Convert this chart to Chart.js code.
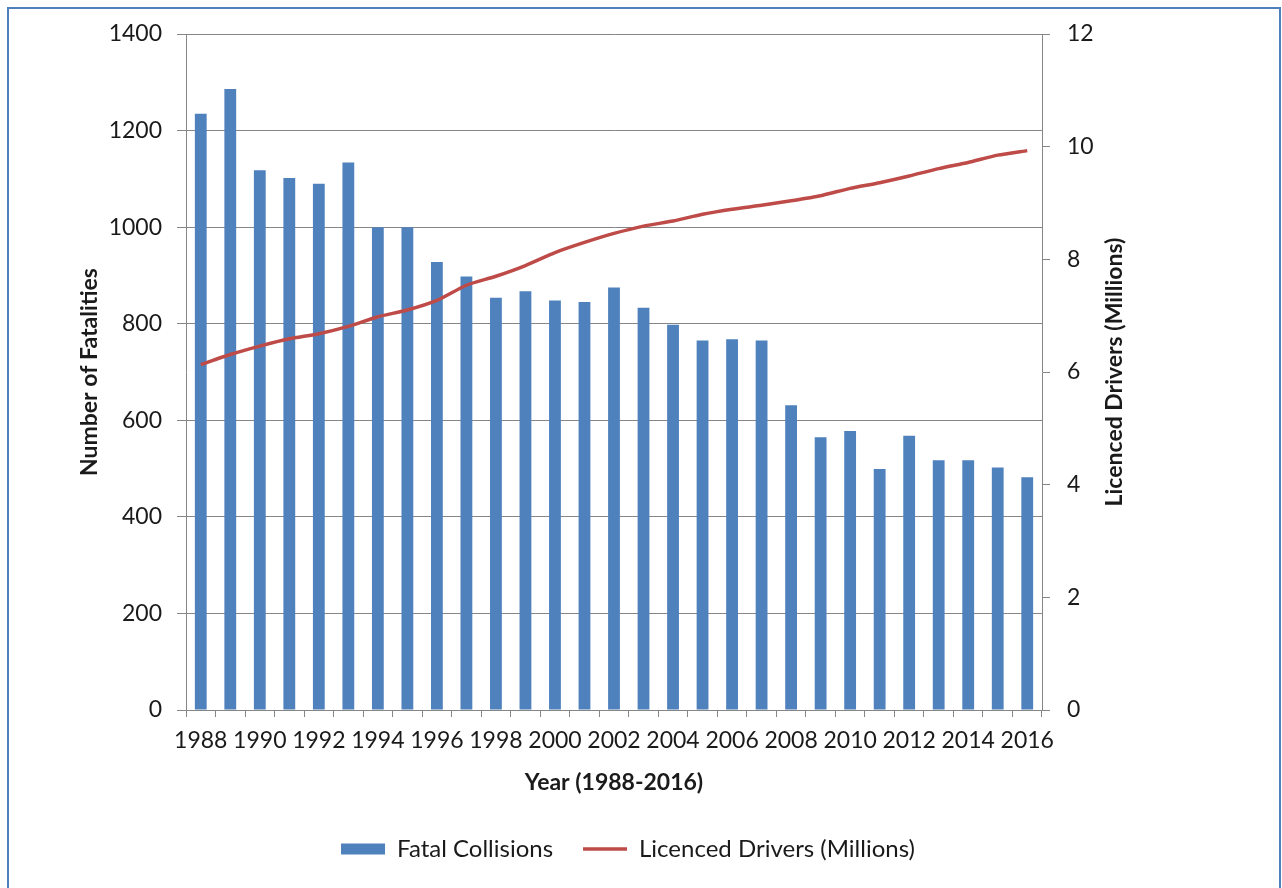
<!DOCTYPE html>
<html>
<head>
<meta charset="utf-8">
<script src="https://cdn.jsdelivr.net/npm/chart.js@4.4.0/dist/chart.umd.min.js"></script>
<style>
    html, body { margin: 0; padding: 0; background: #fff; overflow: hidden; }
    #wrap { position: relative; width: 1282px; height: 888px; }
    #frame {
        position: absolute; left: 7px; top: 7px; width: 1270px; height: 900px;
        border: 2px solid #4F81BD;
    }
    #chart { position: absolute; left: 0; top: 0; }
</style>
</head>
<body>
<div id="wrap">
    <div id="frame"></div>
    <canvas id="chart" width="1282" height="888"></canvas>
</div>
<script>
// values
const years = ['1988', '1989', '1990', '1991', '1992', '1993', '1994', '1995', '1996', '1997',
    '1998', '1999', '2000', '2001', '2002', '2003', '2004', '2005', '2006', '2007',
    '2008', '2009', '2010', '2011', '2012', '2013', '2014', '2015', '2016'];

const fatalCollisions = [1235, 1286, 1118, 1102, 1090, 1134, 1000, 1000, 928, 898,
    854, 867, 848, 845, 875, 833, 798, 765, 768, 765,
    631, 565, 578, 499, 568, 517, 517, 502, 482];

const licencedDrivers = [6.13, 6.31, 6.46, 6.59, 6.68, 6.81, 6.98, 7.10, 7.27, 7.54,
    7.70, 7.89, 8.12, 8.30, 8.46, 8.59, 8.68, 8.80, 8.89, 8.96,
    9.04, 9.13, 9.26, 9.36, 9.48, 9.61, 9.72, 9.85, 9.93];

const leftTicks = [0, 200, 400, 600, 800, 1000, 1200, 1400];
const rightTicks = [0, 2, 4, 6, 8, 10, 12];

const FONT = 'Lato, "Open Sans", sans-serif';
const GRID = '#868686';
const TEXT = '#1a1a1a';

const PAD = { top: 34, right: 26, bottom: 17, left: 0 };
const PLOT_LEFT = 186, PLOT_RIGHT = 1042, PLOT_BOTTOM = 710, LEGEND_TOP = 807;
const RIGHT_TITLE = 'Licenced Drivers (Millions)';

// right axis title reads bottom-to-top in the original, Chart.js turns it the other way
const rightTitlePlugin = {
    id: 'rightTitle',
    afterDraw(chart) {
        const { ctx, chartArea } = chart;
        ctx.save();
        ctx.translate(1115, (chartArea.top + chartArea.bottom) / 2);
        ctx.rotate(-Math.PI / 2);
        ctx.font = 'bold 23px ' + FONT;
        ctx.fillStyle = TEXT;
        ctx.textAlign = 'center';
        ctx.textBaseline = 'middle';
        ctx.fillText(RIGHT_TITLE, 0, 0);
        ctx.restore();
    }
};

function renderChart() {
    const ctx = document.getElementById('chart').getContext('2d');

    new Chart(ctx, {
        type: 'bar',
        data: {
            labels: years,
            datasets: [
                {
                    type: 'bar',
                    label: 'Fatal Collisions',
                    data: fatalCollisions,
                    backgroundColor: '#4F81BD',
                    borderWidth: 0,
                    barPercentage: 0.4,
                    categoryPercentage: 1,
                    pointStyle: 'rect',
                    yAxisID: 'y',
                    order: 1
                },
                {
                    type: 'line',
                    label: RIGHT_TITLE,
                    data: licencedDrivers,
                    borderColor: '#BE4B48',
                    backgroundColor: '#BE4B48',
                    borderWidth: 3.5,
                    pointRadius: 0,
                    pointStyle: 'line',
                    tension: 0.2,
                    fill: false,
                    yAxisID: 'y1',
                    order: 0
                }
            ]
        },
        options: {
            responsive: false,
            animation: false,
            devicePixelRatio: 1,
            layout: { padding: PAD },
            plugins: {
                tooltip: { enabled: false },
                legend: {
                    position: 'bottom',
                    labels: {
                        usePointStyle: true,
                        pointStyleWidth: 44,
                        boxHeight: 11,
                        padding: 30,
                        color: TEXT,
                        font: { family: FONT, size: 24 },
                        sort: (a, b) => a.datasetIndex - b.datasetIndex
                    }
                }
            },
            scales: {
                x: {
                    offset: true,
                    grid: {
                        offset: true,
                        drawOnChartArea: false,
                        drawTicks: true,
                        tickLength: 7,
                        color: GRID
                    },
                    border: { color: GRID, width: 1 },
                    ticks: {
                        autoSkip: false,
                        maxRotation: 0,
                        padding: 10,
                        color: TEXT,
                        font: { family: FONT, size: 23 },
                        callback: (v, i) => (i % 2 === 0 ? years[i] : '')
                    },
                    title: {
                        display: true,
                        text: 'Year (1988-2016)',
                        color: TEXT,
                        font: { family: FONT, size: 23, weight: 'bold' },
                        padding: { top: 0, bottom: 11 }
                    },
                    afterFit: s => { s.height = LEGEND_TOP - PLOT_BOTTOM; }
                },
                y: {
                    position: 'left',
                    min: 0,
                    max: 1400,
                    afterBuildTicks: s => { s.ticks = leftTicks.map(v => ({ value: v })); },
                    grid: {
                        color: GRID,
                        drawTicks: true,
                        tickLength: 9
                    },
                    border: { color: GRID, width: 1 },
                    ticks: {
                        padding: 15,
                        color: TEXT,
                        font: { family: FONT, size: 23 },
                        callback: v => String(v)
                    },
                    title: {
                        display: true,
                        text: 'Number of Fatalities',
                        color: TEXT,
                        font: { family: FONT, size: 23, weight: 'bold' },
                        padding: { top: 76, bottom: 0 }
                    },
                    afterFit: s => { s.width = PLOT_LEFT - PAD.left; }
                },
                y1: {
                    position: 'right',
                    min: 0,
                    max: 12,
                    afterBuildTicks: s => { s.ticks = rightTicks.map(v => ({ value: v })); },
                    grid: {
                        drawOnChartArea: false,
                        drawTicks: true,
                        tickLength: 8,
                        color: GRID
                    },
                    border: { color: GRID, width: 1 },
                    ticks: {
                        padding: 17,
                        color: TEXT,
                        font: { family: FONT, size: 23 },
                        callback: v => String(v)
                    },
                    title: { display: false },
                    afterFit: s => { s.width = 1282 - PAD.right - PLOT_RIGHT; }
                }
            }
        },
        plugins: [rightTitlePlugin]
    });
}

document.addEventListener('DOMContentLoaded', renderChart);
</script>
</body>
</html>
